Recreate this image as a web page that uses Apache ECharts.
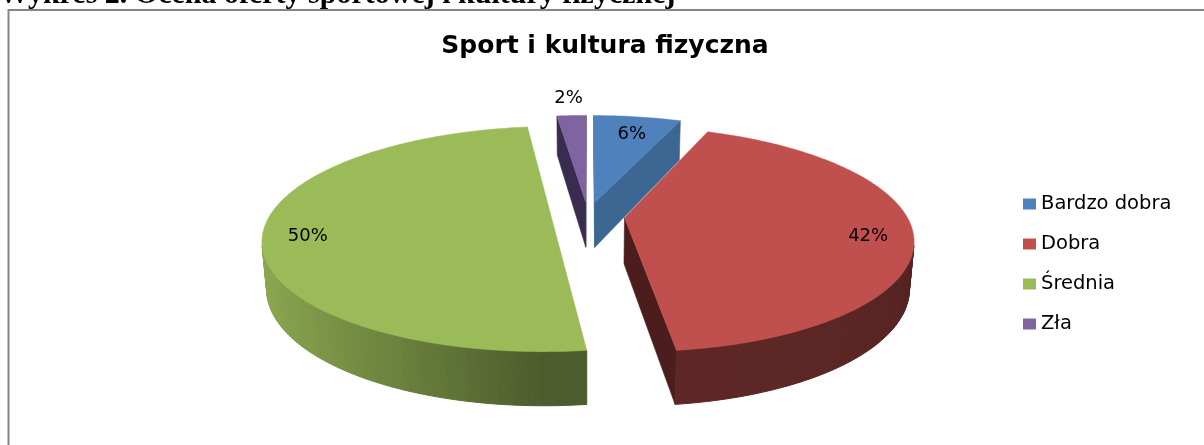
<!DOCTYPE html>
<html><head><meta charset="utf-8">
<script src="https://cdn.jsdelivr.net/npm/echarts@6/dist/echarts.min.js"></script>
<style>html,body{margin:0;padding:0;background:#fff}#c{width:1204px;height:445px}</style>
</head><body><div id="c"></div>
<script>
// ---- data ----
const categories = ['Bardzo dobra', 'Dobra', 'Średnia', 'Zła'];
const values = [6, 42, 50, 2];
const chartTitle = 'Sport i kultura fizyczna';
const headerText = 'Wykres 2. Ocena oferty sportowej i kultury fizycznej';

// ---- styles ----
const topColors = ['#4F81BD', '#C0504D', '#9BBB59', '#8064A2'];
const cutColors = ['#3D6793', '#4B1D1C', '#556B2F', '#3A2C4E'];

const TAU = Math.PI * 2;
const total = values.reduce((a, b) => a + b, 0);
const starts = values.map((v, i) => values.slice(0, i).reduce((a, b) => a + b, 0));

// 3D view parameters (layout)
const G = { cx: 588, cy: 216, F: 1385, D: 4.91, alpha: 22.5 * Math.PI / 180, H: 0.178, e: 0.13 };
const ca = Math.cos(G.alpha), sa = Math.sin(G.alpha);
const cam = [0, G.D * sa, -G.D * ca];
function proj(X, Y, Z) {
  const yv = Y * ca + Z * sa, zv = -Y * sa + Z * ca, d = G.D + zv;
  return [G.cx + G.F * X / d, G.cy - G.F * yv / d];
}
function shade(hex, f) {
  const n = parseInt(hex.slice(1), 16);
  const r = Math.round(((n >> 16) & 255) * f), g = Math.round(((n >> 8) & 255) * f), b = Math.round((n & 255) * f);
  return 'rgb(' + r + ',' + g + ',' + b + ')';
}
function wallF(t) {
  return Math.min(1, 0.41 + 0.48 * Math.max(0, -Math.sin(t)) + 0.08 * Math.max(0, -Math.cos(t)));
}

function makeRender(i) {
  return function (params, api) {
    const v = api.value(0), s = api.value(1);
    const a0 = s / total * TAU, a1 = (s + v) / total * TAU, am = (a0 + a1) / 2;
    const ox = G.e * Math.sin(am), oz = G.e * Math.cos(am);
    const P = (r, a, Y) => [ox + r * Math.sin(a), Y, oz + r * Math.cos(a)];
    const vis = (n, p) => n[0] * (cam[0] - p[0]) + n[1] * (cam[1] - p[1]) + n[2] * (cam[2] - p[2]) > 0;
    const poly = (pts, fill, lw) => ({
      type: 'polygon', shape: { points: pts.map(p => proj(p[0], p[1], p[2])) },
      style: { fill: fill, stroke: fill, lineWidth: lw }
    });
    const children = [];
    // radial cut faces
    [[a0, [-Math.cos(a0), 0, Math.sin(a0)]], [a1, [Math.cos(a1), 0, -Math.sin(a1)]]].forEach(([a, n]) => {
      if (vis(n, P(0.5, a, -G.H / 2))) {
        children.push(poly([P(0, a, 0), P(1, a, 0), P(1, a, -G.H), P(0, a, -G.H)], cutColors[i], 0.6));
      }
    });
    // outer wall
    const N = Math.max(2, Math.ceil((a1 - a0) / (TAU / 360)));
    for (let k = 0; k < N; k++) {
      const t0 = a0 + (a1 - a0) * k / N, t1 = a0 + (a1 - a0) * (k + 1) / N, tm = (t0 + t1) / 2;
      const n = [Math.sin(tm), 0, Math.cos(tm)];
      if (vis(n, P(1, tm, -G.H / 2))) {
        children.push(poly([P(1, t0, 0), P(1, t1, 0), P(1, t1, -G.H), P(1, t0, -G.H)], shade(topColors[i], wallF(tm)), 1));
      }
    }
    // top face
    const pts = [P(0, 0, 0)];
    for (let k = 0; k <= N; k++) pts.push(P(1, a0 + (a1 - a0) * k / N, 0));
    children.push({
      type: 'polygon', shape: { points: pts.map(p => proj(p[0], p[1], p[2])) },
      style: { fill: topColors[i], stroke: topColors[i], lineWidth: 0.5 }
    });
    // label
    const pct = v / total * 100;
    const inside = pct >= 4;
    const lp = inside ? P(0.85, am, -G.H * 0.15) : P(1.25, am, 0);
    const xy = proj(lp[0], lp[1], lp[2]);
    children.push({
      type: 'text', x: xy[0], y: xy[1], z2: 100,
      style: { text: Math.round(pct) + '%', fill: '#000', fontSize: 18, fontFamily: 'DejaVu Sans',
               align: 'center', verticalAlign: 'middle' }
    });
    return { type: 'group', children: children };
  };
}

// draw farther slices first
const order = values.map((v, i) => i).sort((a, b) => {
  const ma = (starts[a] + values[a] / 2) / total * TAU, mb = (starts[b] + values[b] / 2) / total * TAU;
  return Math.cos(mb) - Math.cos(ma);
});

const series = order.map(i => ({
  type: 'custom', name: categories[i], coordinateSystem: 'none', silent: true,
  itemStyle: { color: topColors[i] },
  renderItem: makeRender(i),
  data: [[values[i], starts[i]]]
}));

const chart = echarts.init(document.getElementById('c'), null, { renderer: 'canvas' });
chart.setOption({
  backgroundColor: '#fff',
  animation: false,
  legend: {
    data: categories, orient: 'vertical', left: 1018, top: 189, icon: 'rect',
    itemWidth: 13, itemHeight: 11, itemGap: 20, selectedMode: false,
    textStyle: { fontFamily: 'DejaVu Sans', fontSize: 19.5, color: '#000', lineHeight: 20 }
  },
  graphic: [
    { type: 'text', x: -1, y: 10, silent: true,
      style: { text: headerText, font: 'bold 30px "Liberation Serif"', fill: '#000', verticalAlign: 'bottom', align: 'left' } },
    { type: 'polyline', silent: true, shape: { points: [[8.5, 445], [8.5, 10], [1204, 10]] },
      style: { stroke: '#868686', lineWidth: 2, fill: null } },
    { type: 'text', x: 605, y: 46, silent: true,
      style: { text: chartTitle, font: 'bold 25px "DejaVu Sans"', fill: '#000', align: 'center', verticalAlign: 'middle' } }
  ],
  series: series
});
</script>
</body></html>
